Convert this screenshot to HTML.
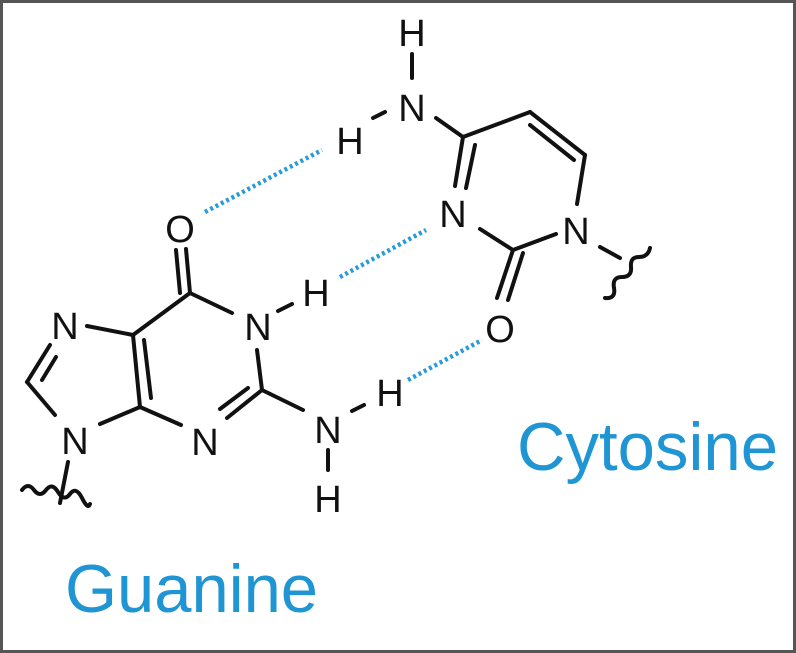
<!DOCTYPE html>
<html><head><style>
html,body{margin:0;padding:0;background:#fff;}
svg{display:block;}
</style></head><body>
<svg width="796" height="653" viewBox="0 0 796 653" xmlns="http://www.w3.org/2000/svg">
<rect x="1.5" y="1.5" width="793" height="650" fill="#fff" stroke="#555" stroke-width="3"/>
<g stroke="#111" stroke-width="4" fill="none" stroke-linecap="round">
<!-- Guanine -->
<line x1="176" y1="250" x2="180" y2="293"/>
<line x1="186" y1="249" x2="190" y2="293"/>
<line x1="190" y1="293" x2="232" y2="313"/>
<line x1="190" y1="293" x2="133" y2="335"/>
<line x1="133" y1="335" x2="87" y2="326"/>
<line x1="133" y1="335" x2="140" y2="407"/>
<line x1="144" y1="340" x2="151" y2="398"/>
<line x1="140" y1="407" x2="100" y2="424"/>
<line x1="140" y1="407" x2="181" y2="425"/>
<line x1="227" y1="418" x2="262" y2="390"/>
<line x1="220" y1="409" x2="248" y2="388"/>
<line x1="262" y1="390" x2="257" y2="350"/>
<line x1="262" y1="390" x2="303" y2="410"/>
<line x1="278" y1="311" x2="292" y2="304"/>
<line x1="352" y1="411" x2="364" y2="405"/>
<line x1="328" y1="450" x2="328" y2="470"/>
<line x1="50" y1="345" x2="27" y2="382"/>
<line x1="56" y1="357" x2="42" y2="380"/>
<line x1="27" y1="382" x2="55" y2="415"/>
<line x1="68" y1="462" x2="60" y2="503"/>
<path d="M22 490 q6 -8 12 0 t12 0 t12 2 t12 2 t12 4 t8 6" />
<!-- Cytosine -->
<line x1="412" y1="54" x2="412" y2="78"/>
<line x1="373" y1="118" x2="385" y2="112"/>
<line x1="436" y1="118" x2="463" y2="137"/>
<line x1="463" y1="137" x2="530" y2="112"/>
<line x1="530" y1="112" x2="585" y2="155"/>
<line x1="530" y1="125" x2="574" y2="160"/>
<line x1="585" y1="155" x2="577" y2="204"/>
<line x1="463" y1="137" x2="455" y2="186"/>
<line x1="475" y1="145" x2="466" y2="188"/>
<line x1="480" y1="229" x2="513" y2="250"/>
<line x1="513" y1="250" x2="556" y2="234"/>
<line x1="513" y1="250" x2="497" y2="298"/>
<line x1="523" y1="253" x2="508" y2="300"/>
<line x1="600" y1="247" x2="620" y2="258"/>
<path d="M650 248 q-2 9 -11 9 t-8 10 t-9 10 t-8 11 t-9 10" />
</g>
<g font-family="Liberation Sans, sans-serif" font-size="38" fill="#111" text-anchor="middle">
<text x="180" y="242">O</text>
<text x="258" y="340">N</text>
<text x="316" y="306">H</text>
<text x="65" y="339">N</text>
<text x="75" y="454">N</text>
<text x="205" y="455">N</text>
<text x="328" y="443">N</text>
<text x="390" y="406">H</text>
<text x="328" y="512">H</text>
<text x="412" y="46">H</text>
<text x="412" y="121">N</text>
<text x="350" y="154">H</text>
<text x="453" y="227">N</text>
<text x="576" y="244">N</text>
<text x="500" y="342">O</text>
</g>
<g stroke="#2a9bd6" stroke-width="4.5" stroke-dasharray="3 3" stroke-linecap="butt">
<line x1="205" y1="212" x2="322" y2="150"/>
<line x1="340" y1="277" x2="426" y2="230"/>
<line x1="408" y1="380" x2="482" y2="340"/>
</g>
<g font-family="Liberation Sans, sans-serif" font-size="68" fill="#1f95d3">
<text x="517" y="470" textLength="261" lengthAdjust="spacingAndGlyphs">Cytosine</text>
<text x="65" y="612" textLength="253" lengthAdjust="spacingAndGlyphs">Guanine</text>
</g>
</svg>
</body></html>
